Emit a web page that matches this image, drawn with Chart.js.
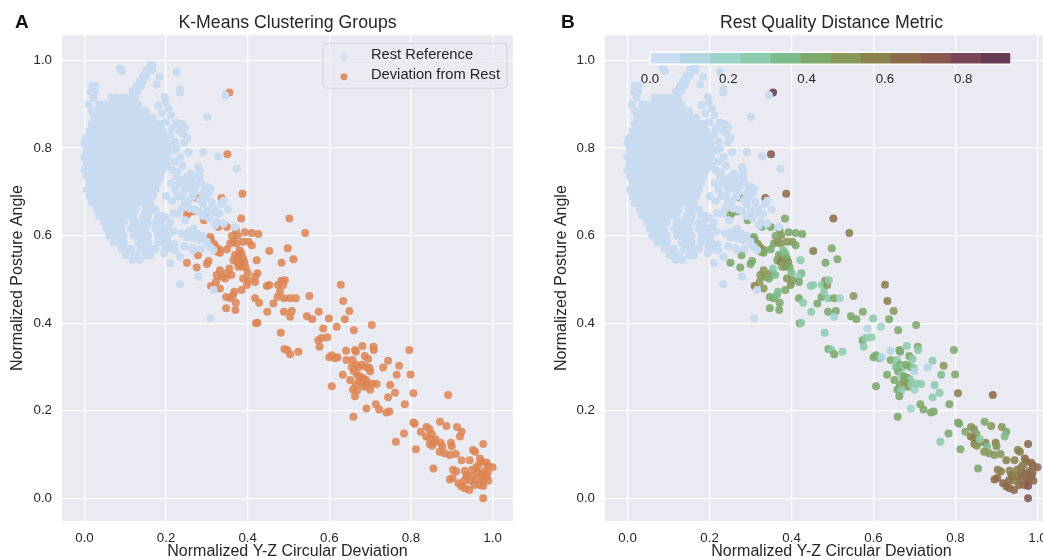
<!DOCTYPE html>
<html>
<head>
<meta charset="utf-8">
<script src="https://cdn.jsdelivr.net/npm/chart.js@4.4.1/dist/chart.umd.min.js"></script>
<style>
  html, body { margin: 0; padding: 0; background: #fff; width: 1043px; height: 560px; overflow: hidden; }
  .panel { position: absolute; top: 0; height: 566px; }
  #panelA { left: 0; width: 520px; }
  #panelB { left: 520px; width: 560px; }
</style>
</head>
<body>
<div class="panel" id="panelA"><canvas id="chartA"></canvas></div>
<div class="panel" id="panelB"><canvas id="chartB"></canvas></div>
<script>
// Axis ticks
const xTicks = [0, 0.2, 0.4, 0.6, 0.8, 1.0];
const yTicks = [0, 0.2, 0.4, 0.6, 0.8, 1.0];
const colorbarTicks = [0, 0.2, 0.4, 0.6, 0.8];
const colorbarMax = 0.922;

// Rest reference cluster: one row of x values per y level (dense blob)
const restRowY = [0.990, 0.978, 0.966, 0.954, 0.942, 0.930, 0.915, 0.900, 0.885, 0.870, 0.855, 0.840,
  0.825, 0.810, 0.795, 0.780, 0.765, 0.750, 0.735, 0.720, 0.705, 0.690, 0.675, 0.660, 0.645, 0.630,
  0.615, 0.600, 0.585, 0.570, 0.555, 0.545];
const restRowX = [
  [0.162, 0.168],
  [0.152, 0.160, 0.166],
  [0.144, 0.152],
  [0.136, 0.144],
  [0.018, 0.026, 0.128, 0.138],
  [0.016, 0.026, 0.118, 0.130],
  [0.022, 0.066, 0.078, 0.090, 0.102, 0.114, 0.124],
  [0.036, 0.048, 0.060, 0.072, 0.084, 0.096, 0.108, 0.120, 0.132],
  [0.018, 0.030, 0.042, 0.054, 0.066, 0.078, 0.090, 0.102, 0.114, 0.126, 0.138, 0.150],
  [0.024, 0.036, 0.048, 0.060, 0.072, 0.084, 0.096, 0.108, 0.120, 0.132, 0.144, 0.156, 0.168],
  [0.018, 0.030, 0.042, 0.054, 0.066, 0.078, 0.090, 0.102, 0.114, 0.126, 0.138, 0.150, 0.162, 0.174, 0.186],
  [0.012, 0.024, 0.036, 0.048, 0.060, 0.072, 0.084, 0.096, 0.108, 0.120, 0.132, 0.144, 0.156, 0.168, 0.180, 0.192],
  [0.006, 0.018, 0.030, 0.042, 0.054, 0.066, 0.078, 0.090, 0.102, 0.114, 0.126, 0.138, 0.150, 0.162, 0.174, 0.186, 0.198],
  [0.000, 0.012, 0.024, 0.036, 0.048, 0.060, 0.072, 0.084, 0.096, 0.108, 0.120, 0.132, 0.144, 0.156, 0.168, 0.180, 0.192, 0.204],
  [0.006, 0.018, 0.030, 0.042, 0.054, 0.066, 0.078, 0.090, 0.102, 0.114, 0.126, 0.138, 0.150, 0.162, 0.174, 0.186, 0.198, 0.210],
  [0.000, 0.012, 0.024, 0.036, 0.048, 0.060, 0.072, 0.084, 0.096, 0.108, 0.120, 0.132, 0.144, 0.156, 0.168, 0.180, 0.192, 0.204],
  [0.006, 0.018, 0.030, 0.042, 0.054, 0.066, 0.078, 0.090, 0.102, 0.114, 0.126, 0.138, 0.150, 0.162, 0.174, 0.186, 0.198],
  [0.000, 0.012, 0.024, 0.036, 0.048, 0.060, 0.072, 0.084, 0.096, 0.108, 0.120, 0.132, 0.144, 0.156, 0.168, 0.180, 0.192],
  [0.006, 0.018, 0.030, 0.042, 0.054, 0.066, 0.078, 0.090, 0.102, 0.114, 0.126, 0.138, 0.150, 0.162, 0.174, 0.186],
  [0.012, 0.024, 0.036, 0.048, 0.060, 0.072, 0.084, 0.096, 0.108, 0.120, 0.132, 0.144, 0.156, 0.168, 0.180],
  [0.006, 0.018, 0.030, 0.042, 0.054, 0.066, 0.078, 0.090, 0.102, 0.114, 0.126, 0.138, 0.150, 0.162, 0.174],
  [0.012, 0.024, 0.036, 0.048, 0.060, 0.072, 0.084, 0.096, 0.108, 0.120, 0.132, 0.144, 0.156, 0.168],
  [0.018, 0.030, 0.042, 0.054, 0.066, 0.078, 0.090, 0.102, 0.114, 0.126, 0.138, 0.150, 0.162],
  [0.030, 0.042, 0.054, 0.066, 0.078, 0.090, 0.102, 0.114, 0.126, 0.150, 0.162, 0.174],
  [0.036, 0.048, 0.060, 0.072, 0.084, 0.096, 0.108, 0.120, 0.144, 0.156, 0.180, 0.192],
  [0.048, 0.060, 0.072, 0.084, 0.096, 0.120, 0.132, 0.144, 0.156, 0.174, 0.186],
  [0.054, 0.066, 0.078, 0.090, 0.114, 0.126, 0.138, 0.150, 0.174, 0.186, 0.198],
  [0.060, 0.072, 0.084, 0.096, 0.120, 0.132, 0.144, 0.156, 0.180, 0.192, 0.204],
  [0.072, 0.084, 0.096, 0.132, 0.144, 0.156, 0.180, 0.192, 0.204],
  [0.090, 0.102, 0.114, 0.138, 0.150, 0.162, 0.174, 0.198, 0.210],
  [0.102, 0.114, 0.126, 0.150, 0.162],
  [0.118, 0.135]
];

// Scattered rest reference points [x, y]
const restScatter = [
  [0.086, 0.982], [0.092, 0.976], [0.225, 0.974], [0.184, 0.963], [0.177, 0.945], [0.234, 0.934],
  [0.234, 0.927], [0.196, 0.917], [0.181, 0.898], [0.212, 0.875], [0.301, 0.871], [0.225, 0.858],
  [0.238, 0.855], [0.246, 0.848], [0.232, 0.840], [0.242, 0.833], [0.252, 0.824], [0.244, 0.812],
  [0.222, 0.815], [0.255, 0.791], [0.291, 0.791], [0.328, 0.781], [0.218, 0.795], [0.235, 0.780],
  [0.279, 0.757], [0.373, 0.753], [0.222, 0.770], [0.240, 0.760], [0.283, 0.750], [0.275, 0.738],
  [0.282, 0.733], [0.259, 0.742], [0.238, 0.727], [0.225, 0.735], [0.212, 0.720], [0.222, 0.705],
  [0.261, 0.708], [0.296, 0.708], [0.308, 0.708], [0.300, 0.711], [0.306, 0.698], [0.283, 0.681],
  [0.291, 0.672], [0.312, 0.677], [0.320, 0.662], [0.336, 0.673], [0.341, 0.680], [0.322, 0.651],
  [0.369, 0.620], [0.324, 0.631], [0.341, 0.628], [0.320, 0.624], [0.238, 0.662], [0.218, 0.651],
  [0.247, 0.635], [0.267, 0.616], [0.206, 0.620], [0.218, 0.609], [0.238, 0.605], [0.251, 0.596],
  [0.259, 0.599], [0.267, 0.594], [0.290, 0.600], [0.308, 0.574], [0.316, 0.567], [0.263, 0.571],
  [0.267, 0.567], [0.234, 0.552], [0.210, 0.537], [0.279, 0.506], [0.345, 0.921], [0.234, 0.489],
  [0.309, 0.411], [0.316, 0.476], [0.002, 0.820], [0.010, 0.900], [0.200, 0.690], [0.215, 0.680],
  [0.230, 0.690], [0.250, 0.720], [0.215, 0.750], [0.230, 0.650], [0.195, 0.560], [0.220, 0.580],
  [0.270, 0.700], [0.255, 0.680], [0.240, 0.690], [0.205, 0.760], [0.228, 0.745], [0.232, 0.720],
  [0.245, 0.705], [0.252, 0.735], [0.262, 0.725], [0.265, 0.690], [0.275, 0.715], [0.286, 0.720],
  [0.290, 0.695], [0.298, 0.688], [0.245, 0.675], [0.258, 0.662], [0.270, 0.660], [0.280, 0.655],
  [0.290, 0.645], [0.300, 0.655], [0.305, 0.640], [0.200, 0.640], [0.210, 0.630], [0.255, 0.610],
  [0.276, 0.605], [0.281, 0.590], [0.300, 0.586], [0.310, 0.660], [0.331, 0.650], [0.352, 0.660],
  [0.200, 0.600], [0.222, 0.566], [0.245, 0.576], [0.286, 0.570], [0.198, 0.905], [0.206, 0.890],
  [0.190, 0.880], [0.200, 0.860], [0.215, 0.845], [0.210, 0.830], [0.225, 0.800]
];

// Deviation from rest points [x, y, distance metric]
const devUpper = [
  [0.355, 0.927, 0.90], [0.350, 0.786, 0.72], [0.387, 0.696, 0.64], [0.336, 0.686, 0.63], [0.274, 0.687, 0.45],
  [0.251, 0.647, 0.44], [0.257, 0.654, 0.45], [0.269, 0.656, 0.44], [0.293, 0.635, 0.42], [0.384, 0.639, 0.42],
  [0.502, 0.639, 0.64], [0.541, 0.606, 0.58], [0.328, 0.620, 0.38], [0.349, 0.620, 0.42], [0.308, 0.597, 0.42],
  [0.310, 0.591, 0.42], [0.371, 0.612, 0.50], [0.393, 0.608, 0.44], [0.410, 0.606, 0.42], [0.426, 0.604, 0.42],
  [0.375, 0.600, 0.50], [0.361, 0.599, 0.42]
];
const devCluster1 = [
  [0.318, 0.581, 0.47], [0.324, 0.573, 0.50], [0.331, 0.568, 0.47], [0.326, 0.563, 0.52], [0.332, 0.561, 0.44],
  [0.357, 0.582, 0.44], [0.365, 0.586, 0.50], [0.373, 0.582, 0.52], [0.389, 0.586, 0.47], [0.402, 0.586, 0.52],
  [0.410, 0.578, 0.44], [0.349, 0.569, 0.42], [0.369, 0.556, 0.40], [0.377, 0.552, 0.52], [0.385, 0.559, 0.36],
  [0.365, 0.544, 0.42], [0.373, 0.540, 0.56], [0.381, 0.537, 0.47], [0.389, 0.548, 0.40], [0.377, 0.529, 0.44],
  [0.385, 0.529, 0.52], [0.392, 0.540, 0.47], [0.380, 0.566, 0.36], [0.395, 0.528, 0.40], [0.422, 0.544, 0.30],
  [0.453, 0.565, 0.58], [0.498, 0.571, 0.42], [0.512, 0.546, 0.42], [0.483, 0.538, 0.42], [0.424, 0.514, 0.36],
  [0.418, 0.506, 0.30], [0.251, 0.538, 0.40], [0.275, 0.527, 0.40], [0.300, 0.535, 0.42], [0.304, 0.542, 0.42],
  [0.278, 0.555, 0.44], [0.324, 0.510, 0.50], [0.336, 0.506, 0.47], [0.349, 0.514, 0.50], [0.345, 0.502, 0.44],
  [0.332, 0.521, 0.50], [0.389, 0.502, 0.52], [0.482, 0.497, 0.50], [0.355, 0.525, 0.30], [0.360, 0.510, 0.33],
  [0.400, 0.515, 0.36]
];
const devCluster2 = [
  [0.310, 0.485, 0.60], [0.332, 0.479, 0.50], [0.322, 0.494, 0.47], [0.347, 0.460, 0.44], [0.357, 0.457, 0.44],
  [0.364, 0.464, 0.33], [0.371, 0.447, 0.42], [0.347, 0.434, 0.44], [0.370, 0.430, 0.42], [0.367, 0.472, 0.33],
  [0.385, 0.476, 0.44], [0.398, 0.487, 0.52], [0.418, 0.494, 0.44], [0.401, 0.498, 0.47], [0.418, 0.457, 0.40],
  [0.428, 0.447, 0.30], [0.420, 0.400, 0.47], [0.424, 0.401, 0.30], [0.447, 0.485, 0.28], [0.453, 0.487, 0.28],
  [0.463, 0.445, 0.42], [0.448, 0.426, 0.30], [0.473, 0.460, 0.40], [0.479, 0.472, 0.25], [0.474, 0.487, 0.26],
  [0.487, 0.487, 0.50], [0.491, 0.498, 0.25], [0.489, 0.457, 0.30], [0.504, 0.457, 0.40], [0.518, 0.457, 0.22],
  [0.489, 0.426, 0.40], [0.508, 0.428, 0.40], [0.504, 0.415, 0.22], [0.481, 0.378, 0.30], [0.490, 0.341, 0.40],
  [0.497, 0.339, 0.25], [0.504, 0.329, 0.40], [0.524, 0.335, 0.30], [0.551, 0.462, 0.50], [0.545, 0.416, 0.42],
  [0.558, 0.409, 0.40], [0.574, 0.426, 0.40], [0.599, 0.411, 0.28], [0.628, 0.488, 0.58], [0.634, 0.451, 0.54],
  [0.649, 0.428, 0.50], [0.638, 0.409, 0.42], [0.704, 0.396, 0.42], [0.618, 0.392, 0.20], [0.660, 0.384, 0.42],
  [0.585, 0.388, 0.12], [0.573, 0.361, 0.40], [0.581, 0.366, 0.30], [0.595, 0.368, 0.25], [0.576, 0.346, 0.30]
];
const devCluster3 = [
  [0.641, 0.337, 0.10], [0.663, 0.339, 0.40], [0.665, 0.335, 0.42], [0.681, 0.348, 0.30], [0.708, 0.346, 0.40],
  [0.709, 0.339, 0.30], [0.600, 0.322, 0.40], [0.606, 0.327, 0.40], [0.614, 0.320, 0.36], [0.620, 0.322, 0.10],
  [0.642, 0.316, 0.40], [0.657, 0.316, 0.30], [0.633, 0.282, 0.42], [0.651, 0.270, 0.40], [0.606, 0.256, 0.42],
  [0.687, 0.325, 0.42], [0.665, 0.305, 0.40], [0.672, 0.300, 0.30], [0.680, 0.305, 0.42], [0.690, 0.300, 0.40],
  [0.698, 0.298, 0.25], [0.700, 0.290, 0.15], [0.660, 0.290, 0.40], [0.668, 0.282, 0.30], [0.675, 0.278, 0.42],
  [0.683, 0.275, 0.40], [0.690, 0.270, 0.28], [0.672, 0.268, 0.42], [0.680, 0.262, 0.50], [0.664, 0.258, 0.40],
  [0.658, 0.248, 0.42], [0.668, 0.246, 0.28], [0.685, 0.255, 0.47], [0.692, 0.260, 0.30], [0.700, 0.248, 0.22],
  [0.663, 0.233, 0.40], [0.705, 0.262, 0.30], [0.716, 0.261, 0.25], [0.659, 0.186, 0.40], [0.691, 0.205, 0.22],
  [0.714, 0.215, 0.44], [0.722, 0.203, 0.44], [0.732, 0.299, 0.12], [0.744, 0.314, 0.25], [0.749, 0.259, 0.25],
  [0.744, 0.231, 0.28], [0.761, 0.241, 0.28], [0.740, 0.196, 0.44], [0.747, 0.198, 0.44], [0.771, 0.303, 0.50],
  [0.765, 0.282, 0.33], [0.799, 0.283, 0.42], [0.796, 0.339, 0.42], [0.806, 0.240, 0.58], [0.785, 0.215, 0.44],
  [0.695, 0.318, 0.30], [0.655, 0.300, 0.36]
];
const devCluster4 = [
  [0.763, 0.129, 0.30], [0.783, 0.148, 0.44], [0.806, 0.173, 0.40], [0.809, 0.170, 0.44], [0.812, 0.112, 0.40],
  [0.824, 0.152, 0.40], [0.838, 0.163, 0.52], [0.845, 0.158, 0.47], [0.851, 0.147, 0.40], [0.837, 0.141, 0.54],
  [0.845, 0.137, 0.54], [0.846, 0.124, 0.54], [0.852, 0.120, 0.52], [0.858, 0.128, 0.47], [0.871, 0.175, 0.44],
  [0.887, 0.165, 0.47], [0.913, 0.163, 0.52], [0.924, 0.152, 0.40], [0.920, 0.141, 0.33], [0.873, 0.127, 0.54],
  [0.877, 0.118, 0.36], [0.870, 0.106, 0.52], [0.882, 0.103, 0.52], [0.898, 0.127, 0.54], [0.900, 0.118, 0.52],
  [0.895, 0.099, 0.52], [0.910, 0.101, 0.52], [0.891, 0.236, 0.64], [0.855, 0.068, 0.40], [0.860, 0.135, 0.30]
];
const devCluster5 = [
  [0.977, 0.124, 0.62], [0.952, 0.110, 0.60], [0.957, 0.106, 0.60], [0.924, 0.087, 0.54], [1.000, 0.071, 0.63],
  [0.944, 0.087, 0.60], [0.969, 0.091, 0.63], [0.973, 0.084, 0.64], [0.903, 0.065, 0.54], [0.911, 0.061, 0.58],
  [0.932, 0.063, 0.60], [0.895, 0.043, 0.63], [0.902, 0.046, 0.63], [0.916, 0.034, 0.64], [0.924, 0.027, 0.64],
  [0.932, 0.023, 0.64], [0.943, 0.019, 0.64], [0.950, 0.050, 0.63], [0.958, 0.042, 0.64], [0.962, 0.060, 0.62],
  [0.970, 0.055, 0.64], [0.975, 0.046, 0.66], [0.978, 0.038, 0.68], [0.980, 0.062, 0.64], [0.968, 0.030, 0.64],
  [0.977, 0.028, 0.70], [0.955, 0.030, 0.63], [0.945, 0.040, 0.60], [0.938, 0.050, 0.60], [0.977, 0.000, 0.72],
  [0.989, 0.074, 0.63], [0.985, 0.081, 0.62], [0.965, 0.076, 0.60], [0.936, 0.053, 0.60], [0.985, 0.050, 0.64],
  [0.990, 0.040, 0.64], [0.960, 0.070, 0.58], [0.950, 0.065, 0.60], [0.930, 0.040, 0.62], [0.988, 0.058, 0.66]
];

// Discrete colormap for the distance metric (12 bins)
const binColors = ['#c9dcf1', '#b1d6e2', '#9dd3cb', '#8ccbab', '#7bbd8a', '#7ca96b',
  '#88975a', '#8b804f', '#8c6b4b', '#89584f', '#7a4756', '#663a55'];

const FONT = "'Liberation Sans', Arial, sans-serif";
const TEXT = '#262626';
const REST_COLOR = '#c8dbf0';
const DEV_COLOR = 'rgba(221, 132, 82, 0.85)';

// Build point lists
const restPoints = [];
restRowY.forEach((y, i) => restRowX[i].forEach(x => restPoints.push({ x, y })));
restScatter.forEach(([x, y]) => restPoints.push({ x, y }));

const devAll = [].concat(devUpper, devCluster1, devCluster2, devCluster3, devCluster4, devCluster5);
const devPoints = devAll.map(([x, y]) => ({ x, y }));
const devMetric = devAll.map(p => p[2]);

function metricColor(m) {
  const bin = Math.min(binColors.length - 1, Math.floor(m / (colorbarMax / binColors.length)));
  return binColors[bin];
}

function withAlpha(hex, a) {
  const n = parseInt(hex.slice(1), 16);
  return `rgba(${n >> 16}, ${(n >> 8) & 255}, ${n & 255}, ${a})`;
}

// Plot background + panel letter
const backgroundPlugin = {
  id: 'plotBg',
  beforeDraw(chart) {
    const { ctx, chartArea: a } = chart;
    ctx.save();
    ctx.fillStyle = '#eaeaf2';
    ctx.fillRect(a.left, a.top, a.right - a.left, a.bottom - a.top);
    ctx.restore();
  },
  afterDraw(chart, args, opts) {
    const ctx = chart.ctx;
    ctx.save();
    ctx.fillStyle = '#111';
    ctx.font = `bold 19px ${FONT}`;
    ctx.textBaseline = 'middle';
    ctx.fillText(opts.letter, opts.letterX, 23);
    ctx.restore();
  }
};

// Legend box for panel A
const legendBoxPlugin = {
  id: 'legendBox',
  afterDraw(chart) {
    const { ctx, chartArea: a } = chart;
    const w = 184, h = 45;
    const left = a.right - 6 - w, top = a.top + 8;
    ctx.save();
    ctx.beginPath();
    ctx.roundRect(left, top, w, h, 4);
    ctx.fillStyle = 'rgba(234, 234, 242, 0.8)';
    ctx.fill();
    ctx.strokeStyle = '#d2d2d8';
    ctx.lineWidth = 1;
    ctx.stroke();
    ctx.font = `14.7px ${FONT}`;
    ctx.textBaseline = 'middle';
    chart.data.datasets.forEach((ds, i) => {
      const y = top + 12 + i * 20;
      ctx.beginPath();
      ctx.arc(left + 21, y + 1.5, 3.5, 0, Math.PI * 2);
      ctx.fillStyle = i === 0 ? withAlpha(REST_COLOR, 0.7) : DEV_COLOR;
      ctx.fill();
      ctx.fillStyle = TEXT;
      ctx.fillText(ds.label, left + 48, y);
    });
    ctx.restore();
  }
};

// Horizontal colorbar for panel B
const colorbarPlugin = {
  id: 'colorbar',
  afterDatasetsDraw(chart) {
    const { ctx, chartArea: a } = chart;
    const left = a.left + 45, right = a.left + 406;
    const top = a.top + 17, h = 12;
    const bw = (right - left) / binColors.length;
    ctx.save();
    binColors.forEach((c, i) => {
      ctx.fillStyle = c;
      ctx.fillRect(left + i * bw, top, bw + 0.5, h);
    });
    ctx.strokeStyle = '#ffffff';
    ctx.lineWidth = 1.5;
    ctx.strokeRect(left, top, right - left, h);
    ctx.fillStyle = TEXT;
    ctx.font = `13.3px ${FONT}`;
    ctx.textAlign = 'center';
    ctx.textBaseline = 'middle';
    colorbarTicks.forEach(v => {
      const x = left + (v / colorbarMax) * (right - left);
      ctx.fillText(v.toFixed(1), x, top + 27);
    });
    ctx.restore();
  }
};

function scales(yWidth) {
  return {
    x: {
      type: 'linear', min: -0.055, max: 1.05,
      afterBuildTicks: s => { s.ticks = xTicks.map(v => ({ value: v })); },
      afterFit: s => { s.height = 45; },
      grid: { color: '#ffffff', lineWidth: 1.3, drawTicks: false },
      border: { display: false },
      ticks: { padding: 9, color: TEXT, font: { family: FONT, size: 13.3 }, callback: v => v.toFixed(1) },
      title: {
        display: true, text: 'Normalized Y-Z Circular Deviation', color: TEXT,
        font: { family: FONT, size: 16 }, padding: { top: 0, bottom: 5 }
      }
    },
    y: {
      type: 'linear', min: -0.052, max: 1.058,
      afterBuildTicks: s => { s.ticks = yTicks.map(v => ({ value: v })); },
      afterFit: s => { s.width = yWidth; },
      grid: { color: '#ffffff', lineWidth: 1.3, drawTicks: false },
      border: { display: false },
      ticks: { padding: 10, color: TEXT, font: { family: FONT, size: 13.3 }, callback: v => v.toFixed(1) },
      title: {
        display: true, text: 'Normalized Posture Angle', color: TEXT,
        font: { family: FONT, size: 16 }, padding: { top: 8, bottom: 0 }
      }
    }
  };
}

function baseOptions(title, padding, yWidth, letter, letterX) {
  return {
    responsive: true,
    maintainAspectRatio: false,
    animation: false,
    events: [],
    layout: { padding },
    scales: scales(yWidth),
    plugins: {
      legend: { display: false },
      tooltip: { enabled: false },
      title: {
        display: true, text: title, fullSize: false, color: TEXT,
        font: { family: FONT, size: 17.7, weight: 'normal' },
        padding: { top: 12, bottom: 2 }
      },
      plotBg: { letter, letterX }
    }
  };
}

new Chart(document.getElementById('chartA'), {
  type: 'scatter',
  data: {
    datasets: [
      { label: 'Rest Reference', data: restPoints, backgroundColor: REST_COLOR, borderWidth: 0, pointRadius: 4 },
      { label: 'Deviation from Rest', data: devPoints, backgroundColor: DEV_COLOR, borderWidth: 0, pointRadius: 4 }
    ]
  },
  options: baseOptions('K-Means Clustering Groups', { left: 0, right: 7, top: 0, bottom: 0 }, 62, 'A', 15),
  plugins: [backgroundPlugin, legendBoxPlugin]
});

new Chart(document.getElementById('chartB'), {
  type: 'scatter',
  data: {
    datasets: [
      { label: 'Rest Reference', data: restPoints, backgroundColor: REST_COLOR, borderWidth: 0, pointRadius: 4 },
      {
        label: 'Deviation from Rest', data: devPoints, borderWidth: 0, pointRadius: 4,
        backgroundColor: ctx => withAlpha(metricColor(devMetric[ctx.dataIndex]), 0.88)
      }
    ]
  },
  options: baseOptions('Rest Quality Distance Metric', { left: 24, right: 22, top: 0, bottom: 0 }, 61, 'B', 41),
  plugins: [backgroundPlugin, colorbarPlugin]
});
</script>
</body>
</html>
